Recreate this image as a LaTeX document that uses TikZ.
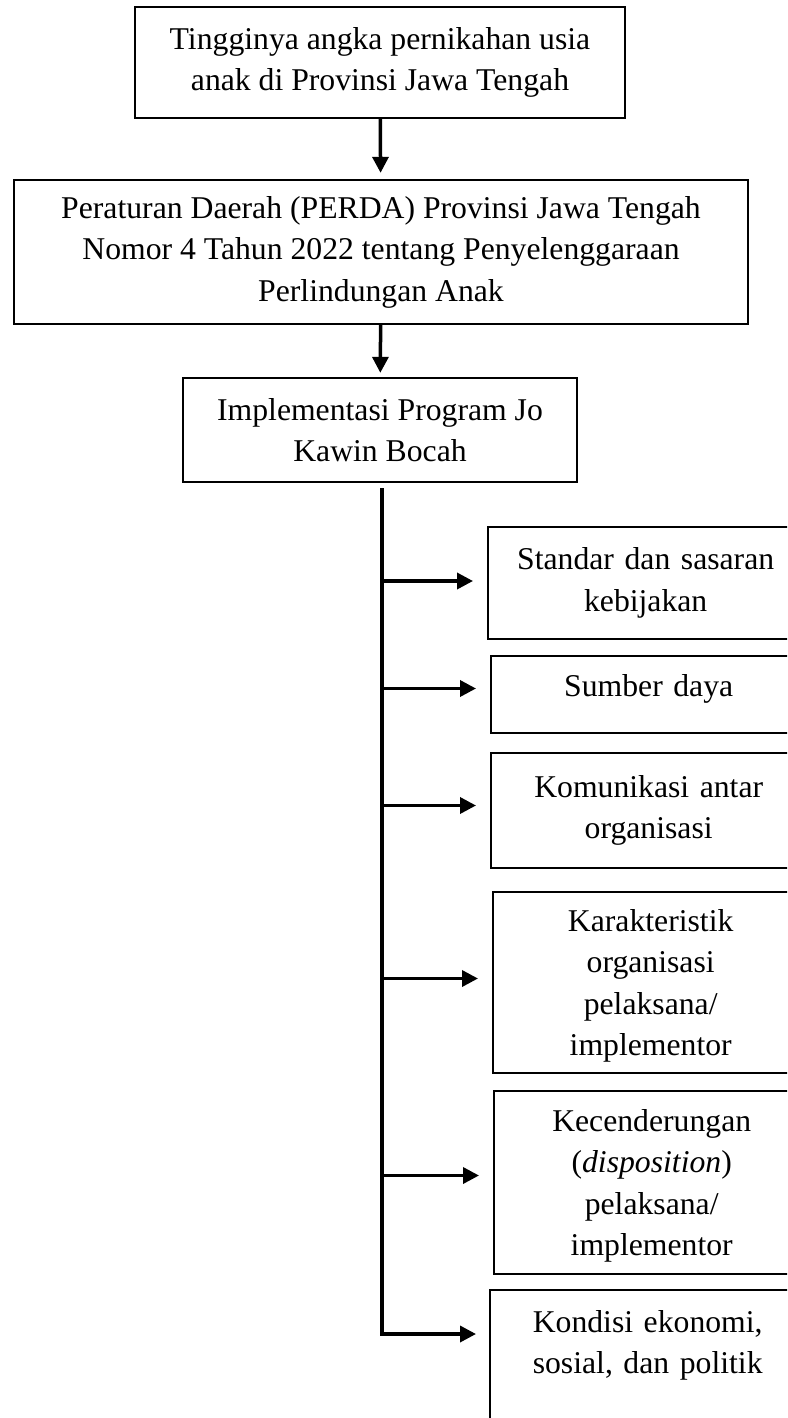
\documentclass[tikz,border=0pt]{standalone}
\usepackage{fontspec}
\setmainfont{Liberation Serif}
\usetikzlibrary{arrows.meta}

\tikzset{
	box/.style={draw, line width=2.4pt, align=center, inner xsep=10pt, font=\fontsize{31.7}{41.5}\selectfont},
	sidebox/.style={box, anchor=west, text width=290pt, minimum width=315pt},
	arr/.style={line width=3.5pt, -{Triangle[length=16pt, width=16pt]}},
}

\begin{document}
\begin{tikzpicture}[x=1pt, y=-1pt]
		\useasboundingbox (0, 0) rectangle (787, 1418);
		\clip (0, 0) rectangle (787, 1418);

		% main column
		\node[box, minimum width=490pt, minimum height=111pt] (masalah) at (380, 62.5) {Tingginya angka pernikahan usia\\anak di Provinsi Jawa Tengah};
		\node[box, minimum width=734pt, minimum height=144pt] (perda) at (381, 252) {Peraturan Daerah (PERDA) Provinsi Jawa Tengah\\Nomor 4 Tahun 2022 tentang Penyelenggaraan\\Perlindungan Anak};
		\node[box, minimum width=394pt, minimum height=104pt] (program) at (380, 430) {Implementasi Program Jo\\Kawin Bocah};

		\draw[arr, shorten >=6pt] (masalah) -- (perda);
		\draw[arr, shorten >=4pt] (perda) -- (program);

		% variables
		\node[sidebox, minimum height=112pt] (standar) at (487, 583) {Standar dan sasaran\\kebijakan};
		\node[sidebox, minimum height=77pt] (sumber) at (490, 694.5) {Sumber daya\rule[-18pt]{0pt}{1pt}};
		\node[sidebox, minimum height=115pt] (komunikasi) at (490, 810.5) {Komunikasi antar\\organisasi};
		\node[sidebox, minimum height=181pt] (karakter) at (492, 982.5) {\strut Karakteristik\\organisasi\\pelaksana/\\implementor};
		\node[sidebox, minimum height=183pt] (disposisi) at (493, 1182.5) {\strut Kecenderungan\\(\textit{disposition})\\pelaksana/\\implementor};
		\node[sidebox, anchor=north west, inner ysep=20pt, text depth=120pt] (kondisi) at (489, 1289) {Kondisi ekonomi,\\sosial, dan politik};

		% spine
		\coordinate (spineTop) at (382, 488);
		\coordinate (spineBot) at (382, 1334);
		\draw[line width=3.6pt] (spineTop) -- (spineBot);

		\foreach \v/\d in {standar/2, sumber/6, komunikasi/5, karakter/4, disposisi/7}
			\draw[arr, shorten >=14pt] ([yshift=\d pt]spineTop |- \v.west) -- ([yshift=\d pt]\v.west);
		\draw[arr, shorten >=13pt] ([xshift=-1.8pt]spineBot) -- (spineBot -| kondisi.west);

	\end{tikzpicture}
\end{document}
